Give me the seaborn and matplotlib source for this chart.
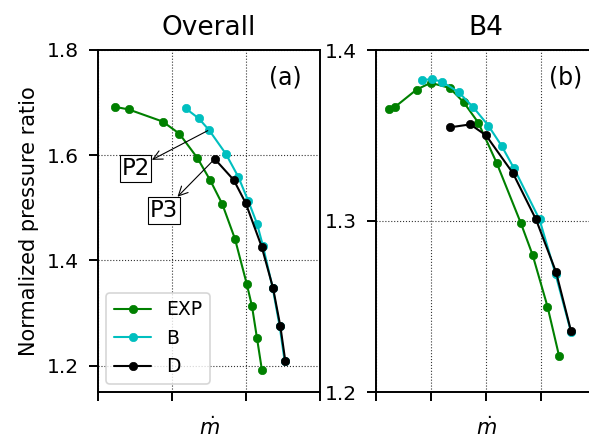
import numpy as np
import pandas as pd
import matplotlib
matplotlib.use("Agg")
import matplotlib.pyplot as plt
import seaborn as sns

sns.set_style("ticks", {"axes.edgecolor": "black", "text.color": "black",
                        "xtick.color": "black", "ytick.color": "black",
                        "axes.labelcolor": "black"})
plt.rcParams["font.family"] = ["DejaVu Sans"]
plt.rcParams["mathtext.fontset"] = "dejavusans"

series = ["EXP", "B", "D"]
colors = {"EXP": "green", "B": "c", "D": "black"}

# Overall panel (a)
overall_exp_m = [0.230, 0.415, 0.874, 1.099, 1.342, 1.518, 1.680, 1.851, 2.009, 2.081, 2.149, 2.216]
overall_exp_pr = [1.692, 1.687, 1.664, 1.641, 1.595, 1.552, 1.507, 1.441, 1.356, 1.313, 1.252, 1.191]
overall_b_m = [1.185, 1.361, 1.500, 1.726, 1.896, 2.031, 2.149, 2.230, 2.360, 2.455, 2.522]
overall_b_pr = [1.689, 1.670, 1.648, 1.603, 1.559, 1.513, 1.470, 1.427, 1.348, 1.275, 1.209]
overall_d_m = [1.577, 1.834, 1.996, 2.212, 2.365, 2.464, 2.531]
overall_d_pr = [1.593, 1.553, 1.509, 1.426, 1.348, 1.275, 1.209]

# B4 panel (b)
b4_exp_m = [0.242, 0.345, 0.740, 0.995, 1.340, 1.595, 1.860, 2.195, 2.633, 2.847, 3.118, 3.327]
b4_exp_pr = [1.3654, 1.3667, 1.3769, 1.3808, 1.3778, 1.3694, 1.3575, 1.3339, 1.2988, 1.2802, 1.2500, 1.2213]
b4_b_m = [0.836, 1.024, 1.195, 1.504, 1.769, 2.042, 2.285, 2.509, 2.973, 3.264, 3.545]
b4_b_pr = [1.3825, 1.3829, 1.3815, 1.3753, 1.3665, 1.3558, 1.3439, 1.3308, 1.3009, 1.2690, 1.2351]
b4_d_m = [1.351, 1.715, 2.000, 2.491, 2.909, 3.273, 3.545]
b4_d_pr = [1.3548, 1.3565, 1.3501, 1.3279, 1.3009, 1.2702, 1.2357]

overall_yticks = [1.2, 1.4, 1.6, 1.8]
b4_yticks = [1.2, 1.3, 1.4]


def make_df(ms, prs):
    rows = []
    for name, m, p in zip(series, ms, prs):
        for mi, pi in zip(m, p):
            rows.append({"series": name, "m": mi, "pr": pi})
    return pd.DataFrame(rows)


df_a = make_df([overall_exp_m, overall_b_m, overall_d_m],
               [overall_exp_pr, overall_b_pr, overall_d_pr])
df_b = make_df([b4_exp_m, b4_b_m, b4_d_m], [b4_exp_pr, b4_b_pr, b4_d_pr])

fig = plt.figure(figsize=(5.89, 4.41), dpi=100)
ax1 = fig.add_axes([98 / 589, 49 / 441, 222 / 589, 342 / 441])
ax2 = fig.add_axes([376 / 589, 49 / 441, 220 / 589, 342 / 441])


def draw(ax, df):
    for name in series:
        sub = df[df["series"] == name]
        sns.lineplot(data=sub, x="m", y="pr", ax=ax, color=colors[name],
                     marker="o", markersize=6, markeredgecolor=colors[name],
                     markeredgewidth=0.5, linewidth=1.5, sort=False,
                     estimator=None, label=name)
    ax.set_xlabel(r"$\dot{m}$", fontsize=15, labelpad=4)
    ax.grid(True, color="0.2", linestyle=":", linewidth=0.8)
    ax.set_axisbelow(True)
    for sp in ax.spines.values():
        sp.set_linewidth(1.4)
        sp.set_color("black")
    ax.tick_params(direction="out", length=6.5, width=1.4, labelsize=14.5, pad=7,
                   colors="black")


draw(ax1, df_a)
ax1.set_xlim(0, 3)
ax1.set_xticks([0, 1, 2, 3])
ax1.set_xticklabels([])
ax1.set_ylim(1.15, 1.8)
ax1.set_yticks(overall_yticks)
ax1.set_yticklabels([f"{v:.1f}" for v in overall_yticks])
ax1.set_title("Overall", fontsize=19, pad=11)
ax1.set_ylabel("Normalized pressure ratio", fontsize=15, labelpad=6)
ax1.text(0.845, 0.92, "(a)", transform=ax1.transAxes, ha="center", va="center", fontsize=17)
leg = ax1.legend(loc="lower left", fontsize=13.5, frameon=True, fancybox=True,
                 borderaxespad=0.45, labelspacing=0.5, handletextpad=0.8)
leg.get_frame().set_edgecolor("0.8")
leg.get_frame().set_linewidth(1.2)

ax1.annotate("P2", xy=(overall_b_m[2], overall_b_pr[2]), xytext=(0.507, 1.575),
             fontsize=16.5, ha="center", va="center",
             bbox=dict(boxstyle="square,pad=0.08", fc="white", ec="black", lw=0.8),
             arrowprops=dict(arrowstyle="<-", color="black", lw=0.8, shrinkA=0, shrinkB=1))
ax1.annotate("P3", xy=(overall_d_m[0], overall_d_pr[0]), xytext=(0.892, 1.495),
             fontsize=16.5, ha="center", va="center",
             bbox=dict(boxstyle="square,pad=0.08", fc="white", ec="black", lw=0.8),
             arrowprops=dict(arrowstyle="<-", color="black", lw=0.8, shrinkA=0, shrinkB=1))

draw(ax2, df_b)
ax2.legend_.remove()
ax2.set_xlim(0, 4)
ax2.set_xticks([0, 1, 2, 3, 4])
ax2.set_xticklabels([])
ax2.set_ylim(1.2, 1.4)
ax2.set_yticks(b4_yticks)
ax2.set_yticklabels([f"{v:.1f}" for v in b4_yticks])
ax2.set_ylabel("")
ax2.set_title("B4", fontsize=19, pad=11)
ax2.text(0.862, 0.92, "(b)", transform=ax2.transAxes, ha="center", va="center", fontsize=17)

fig.savefig("out.png", dpi=100)
